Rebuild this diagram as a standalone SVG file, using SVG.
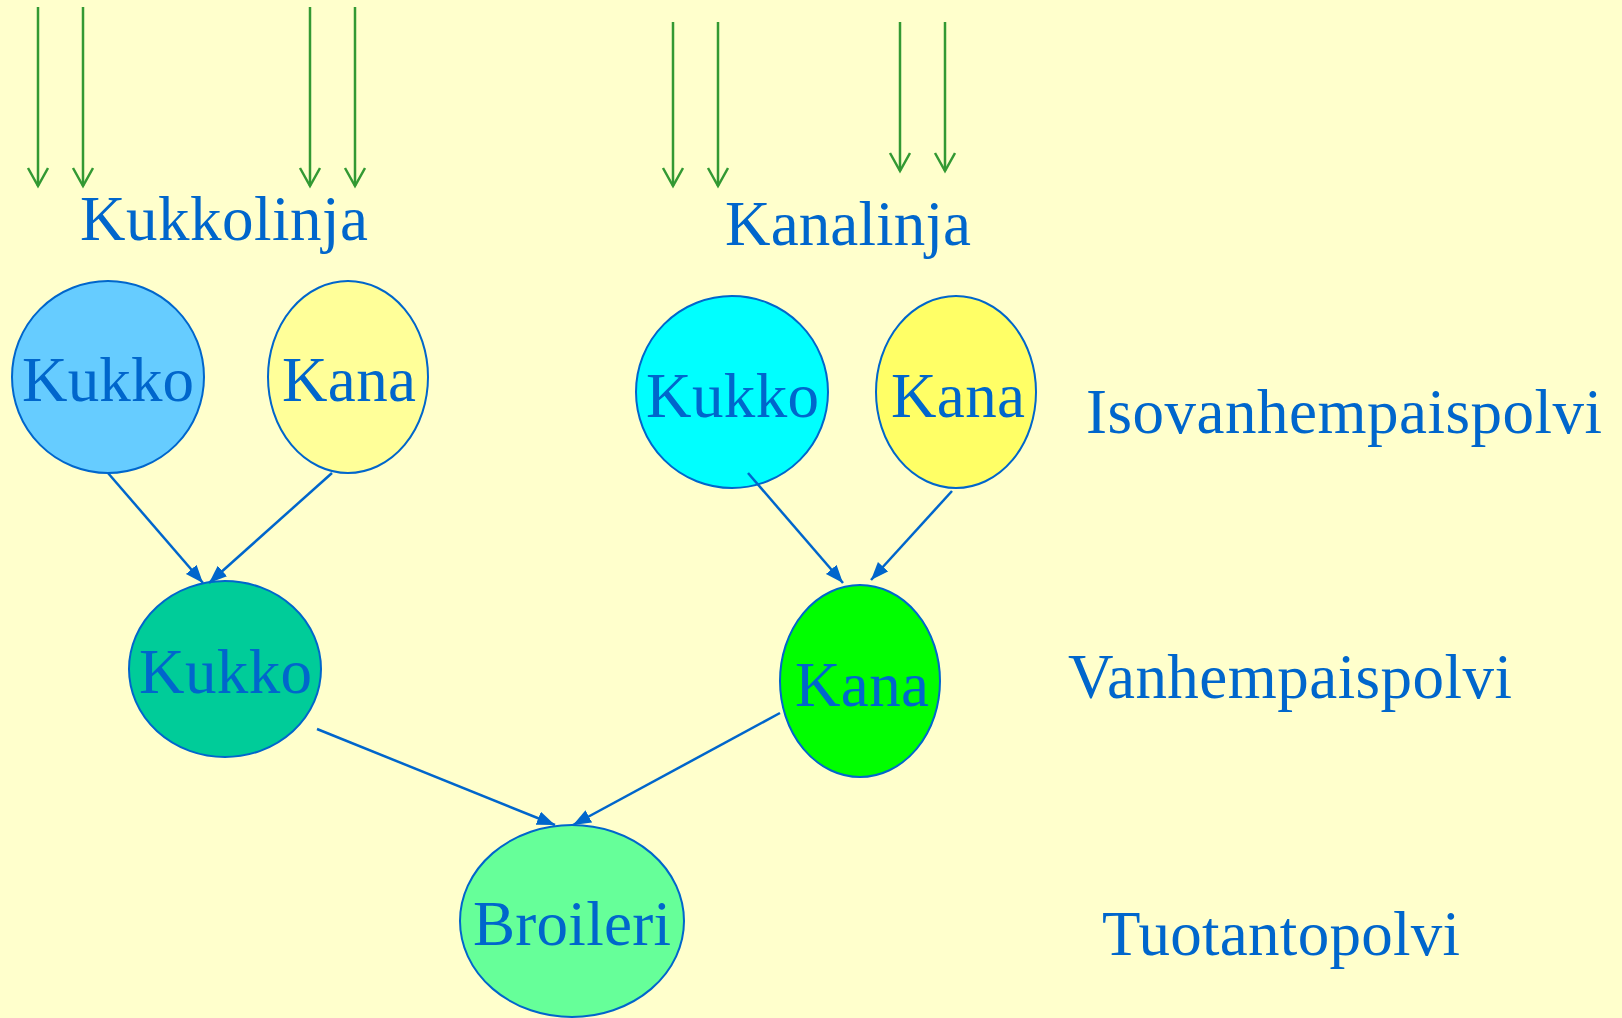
<svg xmlns="http://www.w3.org/2000/svg" width="1622" height="1018" viewBox="0 0 1622 1018">
<defs>
<style>
.bg{fill:#FFFFCC}
.node{stroke:#0066CC;stroke-width:2}
.t{font-family:"Liberation Serif","Times New Roman",serif;font-size:63px;fill:#0066CC}
.c{stroke:#0066CC;stroke-width:2.5;fill:none}
.g{stroke:#339933;stroke-width:2.5;fill:none}
</style>
<marker id="ab" markerUnits="userSpaceOnUse" markerWidth="20" markerHeight="16" refX="18" refY="7" orient="auto">
<path d="M0,0 L18,7 L0,14 z" fill="#0066CC"/>
</marker>
<marker id="ag" markerUnits="userSpaceOnUse" markerWidth="22" markerHeight="24" refX="19" refY="11" orient="auto">
<path d="M1,1 L19,11 L1,21" fill="none" stroke="#339933" stroke-width="2.5"/>
</marker>
</defs>
<rect class="bg" x="0" y="0" width="1622" height="1018"/>

<g id="inputs">
<line class="g" x1="38" y1="7" x2="38" y2="186" marker-end="url(#ag)"/>
<line class="g" x1="83" y1="7" x2="83" y2="186" marker-end="url(#ag)"/>
<line class="g" x1="310" y1="7" x2="310" y2="186" marker-end="url(#ag)"/>
<line class="g" x1="355" y1="7" x2="355" y2="186" marker-end="url(#ag)"/>
<line class="g" x1="673" y1="22" x2="673" y2="186" marker-end="url(#ag)"/>
<line class="g" x1="718" y1="22" x2="718" y2="186" marker-end="url(#ag)"/>
<line class="g" x1="900" y1="22" x2="900" y2="171" marker-end="url(#ag)"/>
<line class="g" x1="945" y1="22" x2="945" y2="171" marker-end="url(#ag)"/>
</g>

<g id="labels">
<text class="t" x="80" y="240" textLength="288" lengthAdjust="spacing">Kukkolinja</text>
<text class="t" x="725" y="245" textLength="246" lengthAdjust="spacing">Kanalinja</text>
<text class="t" x="1086" y="433" textLength="516" lengthAdjust="spacing">Isovanhempaispolvi</text>
<text class="t" x="1068" y="698" textLength="444" lengthAdjust="spacing">Vanhempaispolvi</text>
<text class="t" x="1102" y="955" textLength="358" lengthAdjust="spacing">Tuotantopolvi</text>
</g>

<g id="kukko-gp1">
<ellipse class="node" cx="108" cy="377" rx="96" ry="96" fill="#66CCFF"/>
<text class="t" x="22" y="401" textLength="172" lengthAdjust="spacing">Kukko</text>
</g>
<g id="kana-gp1">
<ellipse class="node" cx="348" cy="377" rx="80" ry="96" fill="#FFFF99"/>
<text class="t" x="282" y="401" textLength="134" lengthAdjust="spacing">Kana</text>
</g>
<g id="kukko-gp2">
<ellipse class="node" cx="732" cy="392" rx="96" ry="96" fill="#00FFFF"/>
<text class="t" x="646" y="417" textLength="173" lengthAdjust="spacing">Kukko</text>
</g>
<g id="kana-gp2">
<ellipse class="node" cx="956" cy="392" rx="80" ry="96" fill="#FFFF66"/>
<text class="t" x="891" y="417" textLength="134" lengthAdjust="spacing">Kana</text>
</g>
<g id="kukko-p">
<ellipse class="node" cx="225" cy="669" rx="96" ry="88" fill="#00CC99"/>
<text class="t" x="139" y="693" textLength="173" lengthAdjust="spacing">Kukko</text>
</g>
<g id="kana-p">
<ellipse class="node" cx="860" cy="681" rx="80" ry="96" fill="#00FF00"/>
<text class="t" x="795" y="706" textLength="134" lengthAdjust="spacing">Kana</text>
</g>
<g id="broileri">
<ellipse class="node" cx="572" cy="921" rx="112" ry="96" fill="#66FF99"/>
<text class="t" x="473" y="945" textLength="198" lengthAdjust="spacing">Broileri</text>
</g>

<g id="connectors">
<line class="c" x1="108" y1="473" x2="203" y2="583" marker-end="url(#ab)"/>
<line class="c" x1="332" y1="473" x2="209" y2="583" marker-end="url(#ab)"/>
<line class="c" x1="748" y1="473" x2="843" y2="583" marker-end="url(#ab)"/>
<line class="c" x1="952" y1="491" x2="871" y2="580" marker-end="url(#ab)"/>
<line class="c" x1="317" y1="729" x2="555" y2="825" marker-end="url(#ab)"/>
<line class="c" x1="780" y1="713" x2="573" y2="825" marker-end="url(#ab)"/>
</g>
</svg>
